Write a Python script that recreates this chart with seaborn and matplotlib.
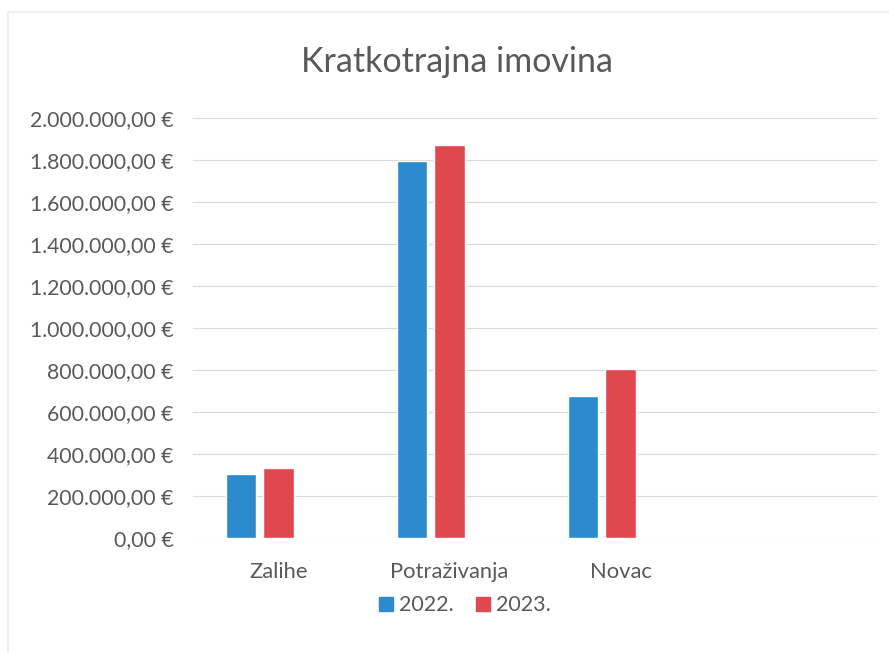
import matplotlib
matplotlib.use('Agg')
import matplotlib.pyplot as plt
import matplotlib.patches as mpatches
import seaborn as sns
import pandas as pd

categories = ['Zalihe', 'Potraživanja', 'Novac']
years = ['2022.', '2023.']
values_2022 = [305000, 1795000, 676000]
values_2023 = [332000, 1870000, 805000]
colors = {'2022.': '#2b8bcc', '2023.': '#e04850', ' ': '#ffffff'}

df = pd.DataFrame({
    'kategorija': categories * 2,
    'godina': [years[0]] * 3 + [years[1]] * 3,
    'iznos': values_2022 + values_2023,
})


def euro(v, pos=None):
    s = f"{v:,.2f}".replace(',', 'X').replace('.', ',').replace('X', '.')
    return s + ' €'


sns.set_style('white')
plt.rcParams['font.family'] = ['Lato', 'DejaVu Sans']
grey = '#595959'

fig = plt.figure(figsize=(8.89, 6.53), dpi=100)
ax = fig.add_axes([0.2171, 0.1761, 0.7694, 0.6432])

# empty 4th category and empty 3rd series, as in the original Excel chart
sns.barplot(data=df, x='kategorija', y='iznos', hue='godina',
            order=categories + [''], hue_order=years + [' '],
            palette=colors, saturation=1, width=0.65, gap=0.19,
            legend=False, ax=ax)

ax.set_ylim(0, 2000000)
ax.set_yticks(range(0, 2000001, 200000))
ax.yaxis.set_major_formatter(plt.FuncFormatter(euro))
ax.grid(axis='y', color='#d9d9d9', linewidth=0.8)
ax.set_axisbelow(True)
for s in ax.spines.values():
    s.set_visible(False)
ax.tick_params(axis='y', length=0, pad=14, labelsize=15.3, labelcolor=grey)
ax.tick_params(axis='x', length=0, pad=17, labelsize=15.8, labelcolor=grey)
ax.set_xlabel('')
ax.set_ylabel('')

fig.text(0.514, 0.905, 'Kratkotrajna imovina', ha='center', va='center',
         fontsize=24.5, color=grey)

handles = [mpatches.Patch(color=colors[y], label=y) for y in years]
fig.legend(handles=handles, loc='center', bbox_to_anchor=(0.523, 0.073),
           ncol=2, frameon=False, fontsize=15.5, labelcolor=grey,
           handlelength=0.65, handleheight=0.65, handletextpad=0.3,
           columnspacing=1.0)

# faint chart-area frame
fig.patches.append(mpatches.Rectangle((0.009, -0.1), 1.2, 1.082, transform=fig.transFigure,
                                      fill=False, edgecolor='#ececec', linewidth=1.2))

fig.savefig('out.png', dpi=100)
